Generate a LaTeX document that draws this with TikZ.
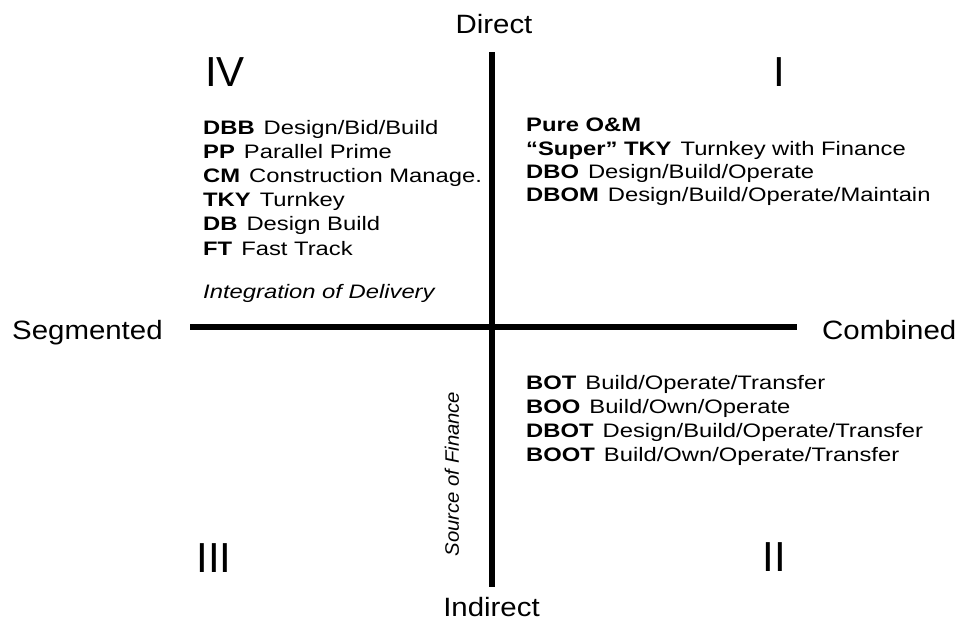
\documentclass[tikz,border=0pt]{standalone}
\usepackage{fontspec}
\setmainfont{Liberation Sans}
\newfontfamily\listfont{Liberation Sans}[FakeStretch=1.22]
\newfontfamily\axisfont{Liberation Sans}[FakeStretch=1.11]
\newfontfamily\finfont{Liberation Sans}[FakeStretch=1.04]
\newcommand\acro[2]{\textbf{#1}\hspace{9pt}#2}
\begin{document}
\begin{tikzpicture}[x=1pt,y=-1pt]
\tikzset{
  axislabel/.style={font=\axisfont\fontsize{26.5}{30}\selectfont, inner sep=0pt},
  entry/.style={font=\listfont\fontsize{19.5}{24}\selectfont, inner sep=0pt, anchor=base west},
  numeral/.style={font=\fontsize{42}{48}\selectfont, inner sep=0pt},
  axisline/.style={line width=6.5pt, line cap=butt}
}
\useasboundingbox[fill=white] (0,0) rectangle (959,621);

% axes
\coordinate (top) at (492,52);
\coordinate (bot) at (492,587);
\coordinate (lft) at (190,327);
\coordinate (rgt) at (797,327);
\draw[axisline] (top) -- (bot);
\draw[axisline] (lft) -- (rgt);

% axis end labels
\node[axislabel, anchor=base] (direct) at (494,34) {Direct};
\node[axislabel, anchor=base] (indirect) at (491.5,616.5) {Indirect};
\node[axislabel, anchor=base west] (segmented) at (12,339) {Segmented};
\node[axislabel, anchor=base east] (combined) at (956.5,339) {Combined};

% quadrant numerals
\node[numeral, anchor=base west] (qIV) at (205,86.5) {IV};
\node[numeral, anchor=base] (qI) at (779,86) {I};
\node[numeral, anchor=base] (qII) at (774,571.5) {II};
\node[numeral, anchor=base] (qIII) at (214,572) {III};

% quadrant IV
\node[entry] (dbb) at (203,134) {\acro{DBB}{Design/Bid/Build}};
\node[entry] (pp)  at (203,158.2) {\acro{PP}{Parallel Prime}};
\node[entry] (cm)  at (203,182.4) {\acro{CM}{Construction Manage.}};
\node[entry] (tky) at (203,206.6) {\acro{TKY}{Turnkey}};
\node[entry] (db)  at (203,230.8) {\acro{DB}{Design Build}};
\node[entry] (ft)  at (203,255) {\acro{FT}{Fast Track}};
\node[entry] (integ) at (203,298) {\itshape Integration of Delivery};

% quadrant I
\node[entry] (om)    at (526,131.7) {\textbf{Pure O\&M}};
\node[entry] (super) at (526,155) {\acro{“Super” TKY}{Turnkey with Finance}};
\node[entry] (dbo)   at (526,178.3) {\acro{DBO}{Design/Build/Operate}};
\node[entry] (dbom)  at (526,201.7) {\acro{DBOM}{Design/Build/Operate/Maintain}};

% quadrant II
\node[entry] (bot1) at (526,389.3) {\acro{BOT}{Build/Operate/Transfer}};
\node[entry] (boo)  at (526,413.3) {\acro{BOO}{Build/Own/Operate}};
\node[entry] (dbot) at (526,437.3) {\acro{DBOT}{Design/Build/Operate/Transfer}};
\node[entry] (boot) at (526,461.5) {\acro{BOOT}{Build/Own/Operate/Transfer}};

% vertical axis caption
\node[rotate=90, inner sep=0pt, font=\finfont\fontsize{19.5}{24}\selectfont\itshape] (finance) at (452,474) {Source of Finance};
\end{tikzpicture}
\end{document}
